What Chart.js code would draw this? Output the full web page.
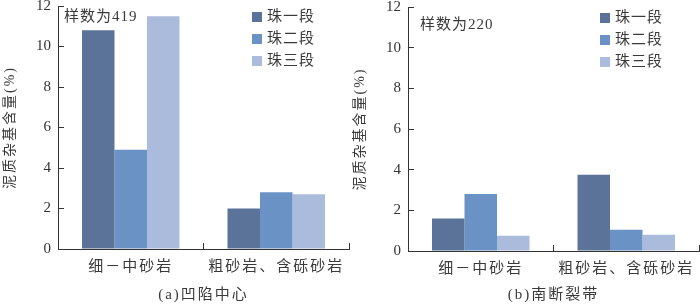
<!DOCTYPE html>
<html>
<head>
<meta charset="utf-8">
<script src="https://cdn.jsdelivr.net/npm/chart.js@4.4.1/dist/chart.umd.min.js"></script>
<style>
body{margin:0;background:#fff;}
.wrap{position:absolute;top:0;width:350px;height:306px;}
</style>
</head>
<body>
<div class="wrap" style="left:0"><canvas id="chartA" width="350" height="306"></canvas></div>
<div class="wrap" style="left:350px"><canvas id="chartB" width="350" height="306"></canvas></div>
<script>
// data
const categories=["细－中砂岩","粗砂岩、含砾砂岩"];
const seriesNames=["珠一段","珠二段","珠三段"];
const seriesColors=["#5b7399","#6a92c4","#abbbdb"];
const centerZhu1=[10.8,2.0];
const centerZhu2=[4.9,2.8];
const centerZhu3=[11.5,2.7];
const southZhu1=[1.6,3.75];
const southZhu2=[2.8,1.05];
const southZhu3=[0.75,0.8];
const yTicks={min:0,max:12,step:2};

const FONT='"Liberation Serif","Noto Sans CJK SC",serif';
const TEXT='#3a3a3a';

// spaced-out CJK text for the x labels and the caption; y tick labels (z:1) are drawn after the reset
const spacing={
  id:'spacing',
  beforeDraw(chart){chart.ctx.letterSpacing='2px';},
  beforeDatasetsDraw(chart){chart.ctx.letterSpacing='0px';}
};
// legend drawn from the datasets
const boxLegend={
  id:'boxLegend',
  afterDraw(chart,args,o){
    const ctx=chart.ctx;
    ctx.save();
    ctx.letterSpacing='1px';
    ctx.font='15px '+FONT; ctx.textBaseline='middle';
    chart.data.datasets.forEach((ds,i)=>{
      const y=o.y+i*o.gap;
      ctx.fillStyle=ds.backgroundColor;
      ctx.fillRect(o.x,y-5,10,10);
      ctx.fillStyle=TEXT;
      ctx.fillText(ds.label,o.x+15,y);
    });
    ctx.restore();
  }
};
const sampleNote={
  id:'sampleNote',
  afterDraw(chart,args,o){
    const ctx=chart.ctx;
    ctx.save();
    ctx.letterSpacing='1px';
    ctx.font='15px '+FONT; ctx.textBaseline='middle'; ctx.fillStyle=TEXT;
    ctx.fillText(o.text,o.x,o.y);
    ctx.restore();
  }
};

function makeChart(id,vals,p){
  return new Chart(document.getElementById(id),{
    type:'bar',
    data:{labels:categories,datasets:vals.map((v,i)=>({label:seriesNames[i],data:v,backgroundColor:seriesColors[i],borderWidth:0,
      categoryPercentage:0.67,barPercentage:1}))},
    options:{
      responsive:false,animation:false,devicePixelRatio:1,
      layout:{padding:{left:0,right:1,top:p.top,bottom:0}},
      plugins:{
        legend:{display:false},tooltip:{enabled:false},
        title:{display:true,fullSize:false,position:'bottom',text:p.title,color:TEXT,font:{family:FONT,size:15,weight:'normal'},padding:{top:p.titlePad,bottom:2}},
        boxLegend:{x:p.legendX,y:p.legendY,gap:22},
        sampleNote:{text:p.note,x:p.noteX,y:p.noteY}
      },
      scales:{
        x:{
          ticks:{color:TEXT,padding:15,font:{family:FONT,size:15},maxRotation:0},
          grid:{offset:true,drawOnChartArea:false,drawTicks:true,tickLength:-6,color:'#333'},
          border:{display:true,color:'#333',width:1},
          afterFit(s){s.height=p.axisH;s.paddingLeft=0;s.paddingRight=0;}
        },
        y:{
          min:yTicks.min,max:yTicks.max,
          ticks:{z:1,stepSize:yTicks.step,padding:13,color:'#333',font:{family:'"Liberation Serif",serif',size:15}},
          grid:{drawOnChartArea:false,drawTicks:true,tickLength:-6,color:'#333'},
          border:{display:true,color:'#333',width:1},
          title:{display:true,text:'泥质杂基含量(%)',color:TEXT,font:{family:FONT,size:14},padding:{top:2,bottom:0}},
          afterFit(s){s.width=58;s.paddingTop=0;s.paddingBottom=0;}
        }
      }
    },
    plugins:[spacing,boxLegend,sampleNote]
  });
}

makeChart('chartA',[centerZhu1,centerZhu2,centerZhu3],
  {top:6,axisH:32,titlePad:5,title:'(a)凹陷中心',legendX:252,legendY:17,note:'样数为419',noteX:64,noteY:17});
makeChart('chartB',[southZhu1,southZhu2,southZhu3],
  {top:7,axisH:31,titlePad:4,title:'(b)南断裂带',legendX:250,legendY:18,note:'样数为220',noteX:70,noteY:25});
</script>
</body>
</html>
